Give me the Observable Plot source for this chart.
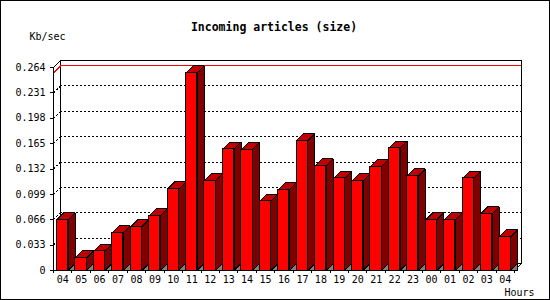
<!DOCTYPE html>
<html>
<head>
<meta charset="utf-8">
<script src="https://cdn.jsdelivr.net/npm/d3@7"></script>
<script src="https://cdn.jsdelivr.net/npm/@observablehq/plot@0.6"></script>
<style>
  html, body { margin: 0; padding: 0; background: #fff; }
  #chart svg { display: block; }
</style>
</head>
<body>
<div id="chart"></div>
<script>
// ---- data ----
const hours = ["04","05","06","07","08","09","10","11","12","13","14","15","16","17","18","19","20","21","22","23","00","01","02","03","04"];
const values = [0.066,0.0165,0.025,0.049,0.057,0.071,0.106,0.257,0.117,0.158,0.157,0.090,0.105,0.169,0.136,0.120,0.1165,0.135,0.159,0.123,0.066,0.066,0.120,0.074,0.044];
const yTicks = [0,0.033,0.066,0.099,0.132,0.165,0.198,0.231,0.264];
const title = "Incoming articles (size)";
const yLabel = "Kb/sec";
const xLabel = "Hours";

// ---- layout ----
const W = 550, H = 300, ML = 53, MR = 36, MT = 67, MB = 30;
const N = hours.length;
const yMax = yTicks[yTicks.length - 1];
const PXX = (W - ML - MR) / N;
const PXY = (H - MT - MB) / yMax;
const DEPTH = 7;
const DX = DEPTH / PXX, DY = DEPTH / PXY;
const OFF = 3.4 / PXX, BW = 11.2 / PXX;

const bars = values.map((v, i) => ({i, v, a: i + OFF, b: i + OFF + BW}));
const poly = (f) => bars.flatMap(d => f(d).map(([x, y]) => ({id: d.i, x, y})));
const tops = poly(d => [[d.a, d.v], [d.b, d.v], [d.b + DX, d.v + DY], [d.a + DX, d.v + DY]]);
const sides = poly(d => [[d.b, 0], [d.b, d.v], [d.b + DX, d.v + DY], [d.b + DX, DY]]);
const shadows = poly(d => [[d.b, 0], [d.b + DX, DY], [d.b + DX, 0]]);
const vmax = d3.max(values);
const fmt = d => d === 0 ? "0" : d.toFixed(3);
const font = "DejaVu Sans Mono";

const chart = Plot.plot({
  width: W, height: H,
  marginLeft: ML, marginRight: MR, marginTop: MT, marginBottom: MB,
  style: {fontFamily: font, fontSize: "10px", background: "white", color: "black"},
  x: {domain: [0, N], ticks: d3.range(N + 1), tickFormat: () => "", tickSize: 3, label: null},
  y: {domain: [0, yMax], ticks: yTicks, tickFormat: fmt, tickSize: 3, tickPadding: 5, label: null},
  marks: [
    // back wall
    Plot.rect([0], {x1: 0, x2: N, y1: 0, y2: yMax, dx: DEPTH, dy: -DEPTH, fill: "white", stroke: "black"}),
    // grid on back wall
    Plot.ruleY(yTicks.slice(1, -1), {x1: 0, x2: N, dx: DEPTH, dy: -DEPTH, stroke: "black", strokeDasharray: "2,2"}),
    Plot.link(yTicks.slice(1, -1), {x1: 0, y1: d => d, x2: DX, y2: d => d + DY, stroke: "black", strokeDasharray: "2,2"}),
    // max line
    Plot.ruleY([vmax], {x1: 0, x2: N, dx: DEPTH, dy: -DEPTH, stroke: "red"}),
    Plot.link([vmax], {x1: 0, y1: d => d, x2: DX, y2: d => d + DY, stroke: "red"}),
    // frame edges
    Plot.link([0], {x1: 0, y1: yMax, x2: DX, y2: yMax + DY, stroke: "black"}),
    Plot.link([0], {x1: N, y1: 0, x2: N + DX, y2: DY, stroke: "black"}),
    Plot.ruleX([0], {y1: 0, y2: yMax, stroke: "black"}),
    // bars
    Plot.line(shadows, {x: "x", y: "y", z: "id", fill: "#808080", stroke: "black", strokeWidth: 1, curve: "linear-closed", strokeLinejoin: "miter"}),
    Plot.line(sides, {x: "x", y: "y", z: "id", fill: "#800000", stroke: "black", strokeWidth: 1, curve: "linear-closed", strokeLinejoin: "miter"}),
    Plot.line(tops, {x: "x", y: "y", z: "id", fill: "#c00000", stroke: "black", strokeWidth: 1, curve: "linear-closed", strokeLinejoin: "miter"}),
    Plot.rect(bars, {x1: "a", x2: "b", y1: 0, y2: "v", fill: "#ff0000", stroke: "black"}),
    Plot.ruleY([0], {x1: 0, x2: N, stroke: "black"}),
    // x labels
    Plot.text(hours, {x: (d, i) => i + 0.5, y: 0, text: d => d, dy: 9.5, fontSize: 10, lineAnchor: "middle"}),
    // titles
    Plot.text([title], {frameAnchor: "top", dx: -10, dy: -40, fontWeight: "bold", fontSize: 11.5, lineAnchor: "middle"}),
    Plot.text([yLabel], {frameAnchor: "top-left", textAnchor: "start", dx: -24, dy: -30.5, fontSize: 10, lineAnchor: "middle"}),
    Plot.text([xLabel], {frameAnchor: "bottom-right", textAnchor: "start", dx: -10, dy: 22.5, fontSize: 10, lineAnchor: "middle"})
  ]
});
chart.setAttribute("shape-rendering", "crispEdges");
chart.style.outline = "1px solid black";
chart.style.outlineOffset = "-1px";
document.getElementById("chart").appendChild(chart);
</script>
</body>
</html>
